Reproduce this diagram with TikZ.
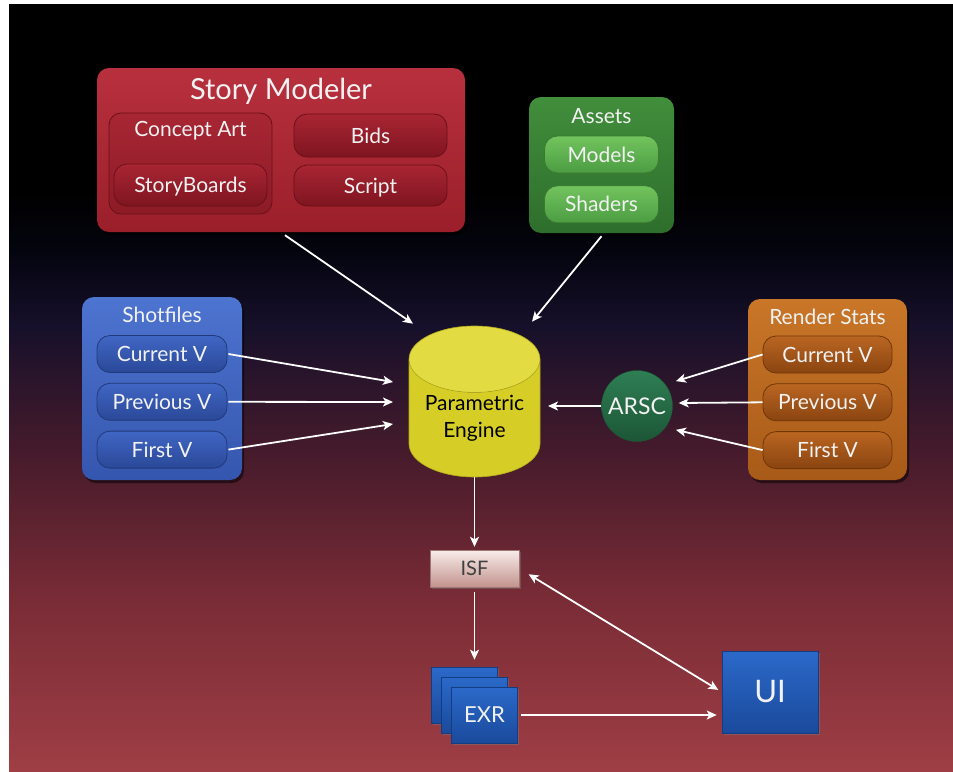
\documentclass[tikz,border=0pt]{standalone}
\usepackage{fontspec}
\setmainfont{Lato}
\usetikzlibrary{arrows.meta,positioning,shapes.geometric,shadows}
\definecolor{txt}{HTML}{F2F2F2}
\definecolor{bgred}{HTML}{9F3E45}
\definecolor{bgmaroon}{HTML}{7A2C36}
\definecolor{bgwine}{HTML}{4A1C2C}
\definecolor{bgnavy}{HTML}{16102A}
\definecolor{bgdark}{HTML}{04040E}
\definecolor{smtop}{HTML}{B8303E}
\definecolor{smbot}{HTML}{9A1F2A}
\definecolor{cgtop}{HTML}{A82634}
\definecolor{cgbot}{HTML}{8C1B26}
\definecolor{rptop}{HTML}{A92533}
\definecolor{rpbot}{HTML}{7E1520}
\definecolor{rpline}{HTML}{6A1018}
\definecolor{gtop}{HTML}{418E3C}
\definecolor{gbot}{HTML}{2E6E2C}
\definecolor{gptop}{HTML}{72C45E}
\definecolor{gpbot}{HTML}{4C9C42}
\definecolor{gpline}{HTML}{3A7A32}
\definecolor{btop}{HTML}{4D74D0}
\definecolor{bbot}{HTML}{3556AE}
\definecolor{bptop}{HTML}{4066C4}
\definecolor{bpbot}{HTML}{2A4898}
\definecolor{bpline}{HTML}{22397A}
\definecolor{otop}{HTML}{C97628}
\definecolor{obot}{HTML}{A85A18}
\definecolor{optop}{HTML}{BA6622}
\definecolor{opbot}{HTML}{8A4410}
\definecolor{opline}{HTML}{703608}
\definecolor{peyellow}{HTML}{D6CE26}
\definecolor{petop}{HTML}{E2DC42}
\definecolor{pedark}{HTML}{B0A81C}
\definecolor{arsctop}{HTML}{2F7E54}
\definecolor{arscbot}{HTML}{1C5636}
\definecolor{isftop}{HTML}{F8ECEA}
\definecolor{isfbot}{HTML}{C3938D}
\definecolor{extop}{HTML}{2B69C9}
\definecolor{exbot}{HTML}{1A4A9C}
\definecolor{exline}{HTML}{143C80}
\pgfdeclareverticalshading{bgshade}{100bp}{color(0bp)=(bgred); color(25bp)=(bgred); color(36bp)=(bgmaroon); color(45bp)=(bgwine); color(54bp)=(bgnavy); color(59bp)=(bgdark); color(63bp)=(black); color(100bp)=(black)}
\begin{document}
\begin{tikzpicture}[x=1pt,y=1pt,
  node distance=10pt,
  every node/.style={font=\fontsize{21}{23}\selectfont,text=txt},
  grp/.style={rounded corners=12pt,inner sep=0pt,drop shadow={opacity=.5,shadow xshift=2pt,shadow yshift=-3pt,fill=black}},
  pill/.style={rounded corners=13pt,inner sep=0pt,line width=.8pt,text height=15pt,text depth=0pt},
  redgrp/.style={grp,top color=smtop,bottom color=smbot},
  redpill/.style={pill,top color=rptop,bottom color=rpbot,draw=rpline,minimum width=153pt},
  greengrp/.style={grp,top color=gtop,bottom color=gbot},
  greenpill/.style={pill,top color=gptop,bottom color=gpbot,draw=gpline,minimum width=114pt,minimum height=37pt},
  bluegrp/.style={grp,top color=btop,bottom color=bbot},
  bluepill/.style={pill,top color=bptop,bottom color=bpbot,draw=bpline,minimum width=130pt,minimum height=37pt},
  orangegrp/.style={grp,top color=otop,bottom color=obot},
  orangepill/.style={pill,top color=optop,bottom color=opbot,draw=opline,minimum width=129pt,minimum height=37pt},
  exrbox/.style={inner sep=0pt,top color=extop,bottom color=exbot,draw=exline,line width=.6pt,minimum width=66pt,minimum height=56pt,drop shadow={opacity=.4,shadow xshift=1.5pt,shadow yshift=-2pt}},
  arr/.style={draw=white,line width=1.8pt,-{Stealth[length=10pt,width=9pt,inset=2.5pt]}},
  dblarr/.style={arr,{Stealth[length=10pt,width=9pt,inset=2.5pt]}-{Stealth[length=10pt,width=9pt,inset=2.5pt]}}
]
\fill[white] (0,0) rectangle (953,-771);
\fill[shading=bgshade] (9,-4) rectangle (953,-771);
\useasboundingbox (0,0) rectangle (953,-771);

\node[redgrp,minimum width=368pt,minimum height=164pt] (sm) at (281,-150) {};
\node[font=\fontsize{29}{31}\selectfont] (smtitle) at (281,-91) {Story Modeler};
\node[pill,rounded corners=12pt,top color=cgtop,bottom color=cgbot,draw=rpline,minimum width=163pt,minimum height=101pt] (concept) at (190.5,-163.5) {};
\node (concepttxt) at (190.5,-131) {Concept Art};
\node[redpill,minimum height=42pt] (storyb) at (190.5,-185) {StoryBoards};
\node[redpill,minimum height=43pt] (bids) at (370.5,-135.5) {Bids};
\node[redpill,minimum height=41pt] (script) at (370.5,-185.5) {Script};

\node[greengrp,minimum width=145pt,minimum height=136pt] (assets) at (601.5,-165) {};
\node (assetstxt) at (601.5,-116) {Assets};
\node[greenpill] (models) at (601.5,-154.5) {Models};
\node[greenpill,below=12pt of models] (shaders) {Shaders};

\node[bluegrp,minimum width=160pt,minimum height=183pt] (shot) at (162,-388.5) {};
\node (shottxt) at (162,-315) {Shotfiles};
\node[bluepill] (scur) at (162,-354) {Current V};
\node[bluepill,below=of scur] (sprev) {Previous V};
\node[bluepill,below=of sprev] (sfirst) {First V};

\node[orangegrp,minimum width=159pt,minimum height=181pt] (rstat) at (827.5,-389.5) {};
\node (rstattxt) at (827.5,-317) {Render Stats};
\node[orangepill] (rcur) at (827.5,-354.5) {Current V};
\node[orangepill,below=of rcur] (rprev) {Previous V};
\node[orangepill,below=of rprev] (rfirst) {First V};

\node[cylinder,shape border rotate=90,aspect=0.67,minimum width=131pt,minimum height=151pt,inner sep=0pt,anchor=shape center,
  cylinder uses custom fill,cylinder body fill=peyellow,cylinder end fill=petop,draw=pedark,line width=.6pt,
  align=center,text=black,font=\fontsize{21}{27}\selectfont] (pe) at (474.5,-401.5) {Parametric\\Engine};
\node[circle,minimum size=71pt,inner sep=0pt,top color=arsctop,bottom color=arscbot,draw=arscbot,font=\fontsize{23}{25}\selectfont] (arsc) at (637,-406) {ARSC};

\node[inner sep=0pt,minimum width=89pt,minimum height=37pt,top color=isftop,bottom color=isfbot,draw=isfbot!80!black,line width=.4pt,text=black!75,font=\fontsize{20}{22}\selectfont,drop shadow={opacity=.4,shadow xshift=1.5pt,shadow yshift=-2pt}] (isf) at (474.5,-568.5) {ISF};
\node[exrbox] (exrback) at (464.5,-695) {};
\node[exrbox] (exrmid) at (474.5,-705) {};
\node[exrbox,font=\fontsize{22}{24}\selectfont] (exr) at (484.5,-715) {EXR};
\node[exrbox,minimum width=96pt,minimum height=82pt,font=\fontsize{31}{33}\selectfont] (ui) at (770,-692) {UI};

\draw[arr] ([xshift=4pt,yshift=-3pt]sm.south) -- ([shift={(-61.5pt,2pt)}]pe.north);
\draw[arr] ([yshift=-3pt]assets.south) -- ([shift={(57.5pt,4pt)}]pe.north);
\draw[arr] ([xshift=1pt]scur.east) -- ([shift={(-81.5pt,19.5pt)}]pe.shape center);
\draw[arr] ([xshift=1pt]sprev.east) -- ([shift={(-81.5pt,-0.5pt)}]pe.shape center);
\draw[arr] ([xshift=1pt]sfirst.east) -- ([shift={(-81.5pt,-22.5pt)}]pe.shape center);
\draw[arr] (arsc.west) -- ([shift={(73.5pt,-4.5pt)}]pe.shape center);
\draw[arr] (rcur.west) -- ([shift={(8pt,7pt)}]arsc.30);
\draw[arr] (rprev.west) -- ([shift={(6pt,3pt)}]arsc.east);
\draw[arr] (rfirst.west) -- ([shift={(8pt,-6pt)}]arsc.-30);
\draw[arr] (pe.south) -- ([yshift=3pt]isf.north);
\draw[arr] ([yshift=-5pt]isf.south) -- ([yshift=7pt]isf.south |- exrback.north);
\draw[arr] ([xshift=3pt]exr.east) -- ([xshift=-5pt]exr.east -| ui.west);
\draw[dblarr,shorten <=11pt,shorten >=4pt] (isf.east) -- (ui.west);
\end{tikzpicture}
\end{document}
